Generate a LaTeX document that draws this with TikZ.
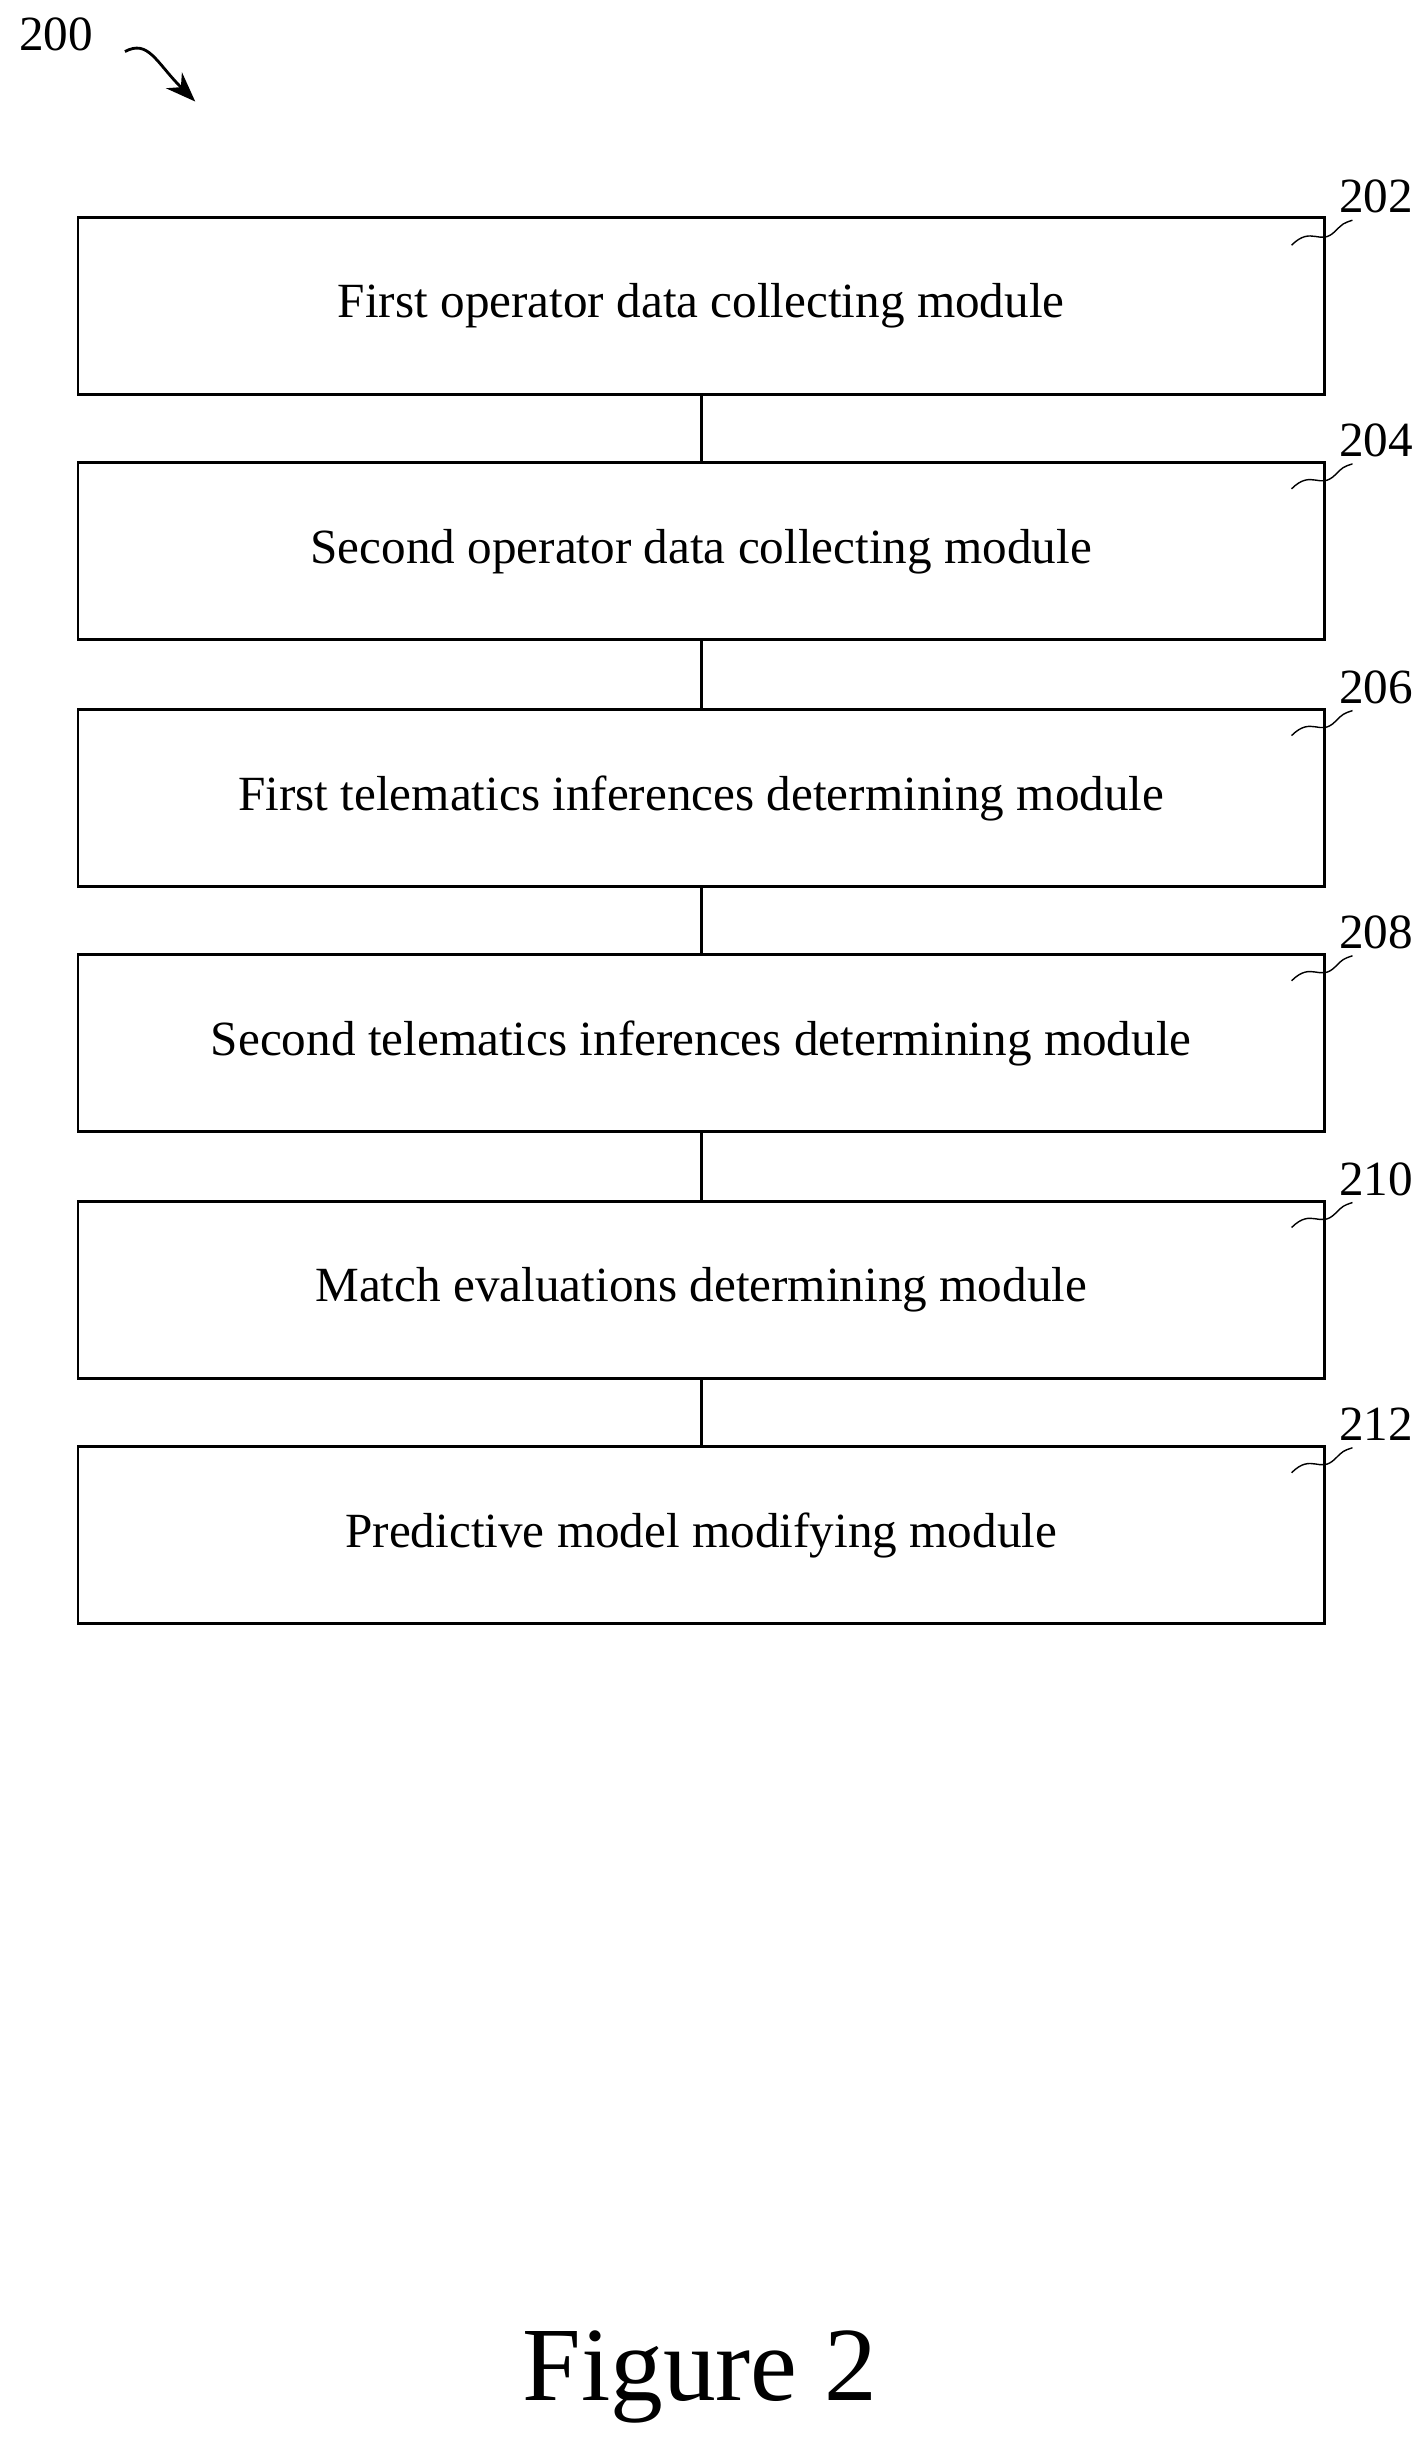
\documentclass[tikz,border=0pt]{standalone}
\usepackage{fontspec}
\setmainfont{Liberation Serif}
\usetikzlibrary{positioning,arrows.meta}
\begin{document}
\begin{tikzpicture}[x=0.015625cm,y=-0.015625cm]

% styles
\tikzstyle{module}=[draw,thick,minimum width=12.47cm,minimum height=1.77cm,font=\fontsize{14}{16}\selectfont]
\tikzstyle{repere}=[font=\fontsize{14}{16}\selectfont]
\tikzstyle{vague}=[thin]

\useasboundingbox (0,0) rectangle (914,1563);

% les modules
\node [module] (m202) at (449,196) {First operator data collecting module};
\node [module] (m204) at (449,353) {Second operator data collecting module};
\node [module] (m206) at (449,511) {First telematics inferences determining module};
\node [module] (m208) at (449,668) {Second telematics inferences determining module};
\node [module] (m210) at (449,826) {Match evaluations determining module};
\node [module] (m212) at (449,983) {Predictive model modifying module};

% les liaisons
\draw[thick] (m202) -- (m204);
\draw[thick] (m204) -- (m206);
\draw[thick] (m206) -- (m208);
\draw[thick] (m208) -- (m210);
\draw[thick] (m210) -- (m212);

% les reperes
\foreach \n/\y in {202/140,204/296,206/454,208/611,210/769,212/926}{
  \node [repere] (r\n) at (881,\y-14) {\n};
  \draw[vague] (827,\y+17) .. controls (840,\y+4) and (845,\y+18) .. (855,\y+8)
     .. controls (860,\y+3) .. (866,\y+1);
}

% figure
\node [repere] (r200) at (36,22) {200};
\coordinate (a200) at (125,65);
\draw[thick,-{Stealth[length=3mm]}] (80,33) .. controls (95,25) and (100,40) .. (a200);
\node [font=\fontsize{30}{34}\selectfont] (fig) at (448,1522) {Figure 2};

\end{tikzpicture}
\end{document}
